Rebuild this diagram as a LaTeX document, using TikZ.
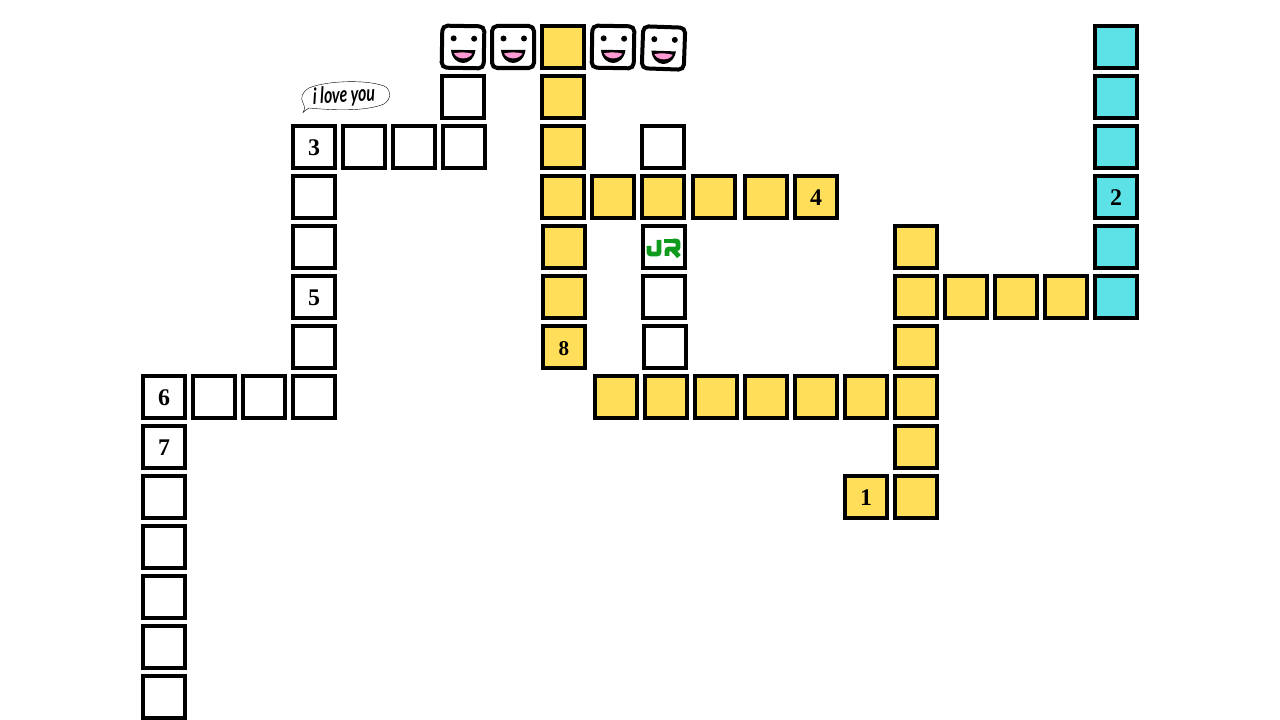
\documentclass[tikz,border=0pt]{standalone}
\usepackage{fontspec}
\setmainfont{Liberation Serif}
\newfontfamily\handfont{Lato}
\definecolor{cellyellow}{HTML}{FFDE59}
\definecolor{cellcyan}{HTML}{5CE1E6}
\definecolor{logogreen}{HTML}{0F9A1E}
\definecolor{tonguepink}{HTML}{FF9AD5}
\tikzset{
    whitecell/.style={draw=black, line width=1mm, fill=white, shape=rectangle, minimum size=1.05cm, inner sep=0pt, text height=0.41cm, text depth=0pt, font=\bfseries\fontsize{17}{17}\selectfont},
    yellowcell/.style={whitecell, fill=cellyellow},
    cyancell/.style={whitecell, fill=cellcyan},
    facecell/.style={whitecell, rounded corners=0.13cm},
    logoline/.style={logogreen, line width=0.12cm}
}
\newcommand{\smileyface}[4]{
    \node[facecell, rotate=#4] (#1) at (#2,#3) {};
    \begin{scope}[shift={(#2,#3)}, rotate=#4]
        \fill (-9.5,-8.5) circle (3);
        \fill (11,-8.5) circle (3);
        \fill (-12,3) -- (12.5,3) .. controls (11.5,12) and (5,16) .. (0.25,16) .. controls (-5,16) and (-11,12) .. (-12,3) -- cycle;
        \fill[tonguepink] (-9,6.5) .. controls (-3,5) and (3,5) .. (9.5,6.5) .. controls (6,13) and (-5.5,13) .. (-9,6.5) -- cycle;
    \end{scope}
}
\begin{document}
\begin{tikzpicture}[x=0.025cm, y=-0.025cm]
    \useasboundingbox (0,0) rectangle (1280,720);

    % faces along the top
    \smileyface{f1}{463}{47}{-1}
    \smileyface{f2}{513}{47}{0}
    \smileyface{f3}{613}{47}{-1}
    \smileyface{f4}{663.5}{48}{-2}

    % white words
    \node[whitecell] (w1) at (463,97) {};
    \node[whitecell] (w2) at (314,147) {3};
    \node[whitecell] (w3) at (364,147) {};
    \node[whitecell] (w4) at (414,147) {};
    \node[whitecell] (w5) at (464,147) {};
    \node[whitecell] (w6) at (314,197) {};
    \node[whitecell] (w7) at (314,247) {};
    \node[whitecell] (w8) at (314,297) {5};
    \node[whitecell] (w9) at (314,347) {};
    \node[whitecell] (w10) at (314,397) {};
    \node[whitecell] (w11) at (264,397) {};
    \node[whitecell] (w12) at (214,397) {};
    \node[whitecell] (w13) at (164,397) {6};
    \node[whitecell] (w14) at (164,447) {7};
    \node[whitecell] (w15) at (164,497) {};
    \node[whitecell] (w16) at (164,547) {};
    \node[whitecell] (w17) at (164,597) {};
    \node[whitecell] (w18) at (164,647) {};
    \node[whitecell] (w19) at (164,697) {};
    \node[whitecell] (w20) at (663,147) {};
    \node[whitecell] (w21) at (664,247) {};
    \node[whitecell] (w22) at (664,297) {};
    \node[whitecell] (w23) at (665,347) {};

    % yellow words
    \node[yellowcell] (y1) at (563,47) {};
    \node[yellowcell] (y2) at (563,97) {};
    \node[yellowcell] (y3) at (563,147) {};
    \node[yellowcell] (y4) at (563,197) {};
    \node[yellowcell] (y5) at (613,197) {};
    \node[yellowcell] (y6) at (663,197) {};
    \node[yellowcell] (y7) at (714,197) {};
    \node[yellowcell] (y8) at (766,197) {};
    \node[yellowcell] (y9) at (816,197) {4};
    \node[yellowcell] (y10) at (564,247) {};
    \node[yellowcell] (y11) at (564,297) {};
    \node[yellowcell, font=\bfseries\fontsize{15}{15}\selectfont] (y12) at (564,347) {8};
    \node[yellowcell] (y13) at (616,397) {};
    \node[yellowcell] (y14) at (666,397) {};
    \node[yellowcell] (y15) at (716,397) {};
    \node[yellowcell] (y16) at (766,397) {};
    \node[yellowcell] (y17) at (816,397) {};
    \node[yellowcell] (y18) at (866,397) {};
    \node[yellowcell] (y19) at (916,397) {};
    \node[yellowcell] (y20) at (916,347) {};
    \node[yellowcell] (y21) at (916,297) {};
    \node[yellowcell] (y22) at (916,247) {};
    \node[yellowcell] (y23) at (966,297) {};
    \node[yellowcell] (y24) at (1016,297) {};
    \node[yellowcell] (y25) at (1066,297) {};
    \node[yellowcell] (y26) at (916,447) {};
    \node[yellowcell] (y27) at (916,497) {};
    \node[yellowcell] (y28) at (866,497) {1};

    % cyan word
    \node[cyancell] (c1) at (1116,47) {};
    \node[cyancell] (c2) at (1116,97) {};
    \node[cyancell] (c3) at (1116,147) {};
    \node[cyancell] (c4) at (1116,197) {2};
    \node[cyancell] (c5) at (1116,247) {};
    \node[cyancell] (c6) at (1116,297) {};

    % logo
    \draw[logoline, rounded corners=0.05cm] (649,246) -- (649,254) -- (659,254) -- (659,240);
    \draw[logoline] (664,241) -- (677,241);
    \draw[logoline, rounded corners=0.05cm] (667,256) -- (667,249) -- (678,249) -- (678,241) -- (673,241);
    \draw[logoline] (672,249) -- (679,256.5);

    % speech bubble
    \draw[line width=0.1mm] (303,112.5) .. controls (306,110) and (307,109) .. (309,108) .. controls (330,110) and (365,112) .. (384,104) .. controls (392,99) and (391,89) .. (384,86) .. controls (365,79) and (325,81) .. (309,88) .. controls (302,92) and (300,98) .. (303,103) .. controls (305,107) and (305,109) .. (303,112.5) -- cycle;
    \node[inner sep=0pt, xscale=0.7, rotate=2, font=\handfont\bfseries\itshape\fontsize{16}{16}\selectfont] (love) at (344,96) {i love you};
\end{tikzpicture}
\end{document}
